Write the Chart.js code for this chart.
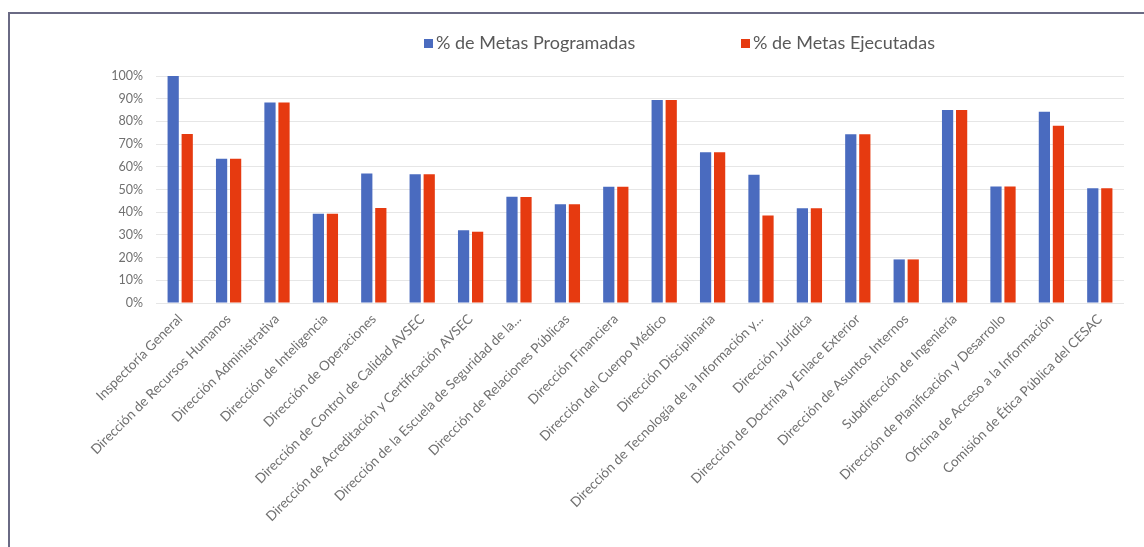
<!DOCTYPE html>
<html>
<head>
<meta charset="utf-8">
<script src="https://cdn.jsdelivr.net/npm/chart.js@4/dist/chart.umd.min.js"></script>
<style>
    html, body { margin: 0; padding: 0; background: #fff; }
    #wrap { position: relative; width: 1144px; height: 547px; }
    #frame { position: absolute; left: 8px; top: 12px; right: 0; bottom: 0;
             border-top: 2px solid #6a6a84; border-left: 2px solid #6a6a84; pointer-events: none; }
</style>
</head>
<body>
<div id="wrap">
    <canvas id="chart" width="1144" height="547"></canvas>
    <div id="frame"></div>
</div>
<script>
const areas = [
    "Inspectoría General",
    "Dirección de Recursos Humanos",
    "Dirección Administrativa",
    "Dirección de Inteligencia",
    "Dirección de Operaciones",
    "Dirección de Control de Calidad AVSEC",
    "Dirección de Acreditación y Certificación AVSEC",
    "Dirección de la Escuela de Seguridad de la...",
    "Dirección de Relaciones Públicas",
    "Dirección Financiera",
    "Dirección del Cuerpo Médico",
    "Dirección Disciplinaria",
    "Dirección de Tecnología de la Información y...",
    "Dirección Jurídica",
    "Dirección de Doctrina y Enlace Exterior",
    "Dirección de Asuntos Internos",
    "Subdirección de Ingeniería",
    "Dirección de Planificación y Desarrollo",
    "Oficina de Acceso a la Información",
    "Comisión de Ética Pública del CESAC"
];

// % de metas
const programadas = [100, 63.5, 88.3, 39.3, 57, 56.7, 32, 46.8, 43.5, 51.2, 89.4, 66.4, 56.5, 41.7, 74.3, 19.2, 85, 51.3, 84.3, 50.5];
const ejecutadas  = [74.4, 63.5, 88.3, 39.3, 41.9, 56.7, 31.4, 46.7, 43.5, 51.2, 89.4, 66.4, 38.6, 41.7, 74.3, 19.2, 85, 51.3, 78.1, 50.5];

const yTicks = [0, 10, 20, 30, 40, 50, 60, 70, 80, 90, 100];

const blue = "#4a6bbf";
const red = "#e63a10";
const textGrey = "#707070";
const fontFamily = "Lato, 'Open Sans', sans-serif";

// leyenda propia: Excel deja mucho espacio entre las dos entradas
const topLegend = {
    id: "topLegend",
    afterDraw(chart) {
        const ctx = chart.ctx;
        const pos = [424, 741];
        ctx.save();
        ctx.font = "18px " + fontFamily;
        ctx.textBaseline = "middle";
        chart.data.datasets.forEach((ds, i) => {
            ctx.fillStyle = ds.backgroundColor;
            ctx.fillRect(pos[i], 39, 9, 9);
            ctx.fillStyle = "#595959";
            ctx.fillText(ds.label, pos[i] + 12, 43);
        });
        ctx.restore();
    }
};

new Chart(document.getElementById("chart"), {
    type: "bar",
    data: {
        labels: areas,
        datasets: [
            { label: "% de Metas Programadas", data: programadas, backgroundColor: blue,
              categoryPercentage: 0.58, barPercentage: 0.8 },
            { label: "% de Metas Ejecutadas", data: ejecutadas, backgroundColor: red,
              categoryPercentage: 0.58, barPercentage: 0.8 }
        ]
    },
    options: {
        responsive: false,
        animation: false,
        layout: { padding: { top: 76, right: 20, bottom: 0, left: 0 } },
        plugins: {
            legend: { display: false },
            tooltip: { enabled: false }
        },
        scales: {
            x: {
                grid: { display: false },
                border: { display: false },
                ticks: {
                    color: textGrey,
                    font: { family: fontFamily, size: 13.5 },
                    minRotation: 45,
                    maxRotation: 45,
                    autoSkip: false,
                    padding: 0
                },
                afterFit: (scale) => { scale.height = 244; }
            },
            y: {
                min: 0,
                max: 100,
                afterBuildTicks: (scale) => { scale.ticks = yTicks.map(v => ({ value: v })); },
                grid: { color: "#e6e6e6", drawTicks: false },
                border: { display: false },
                ticks: {
                    color: textGrey,
                    font: { family: fontFamily, size: 12.5 },
                    padding: 13,
                    callback: (v) => v + "%"
                },
                afterFit: (scale) => { scale.width = 156; }
            }
        }
    },
    plugins: [topLegend]
});
</script>
</body>
</html>
